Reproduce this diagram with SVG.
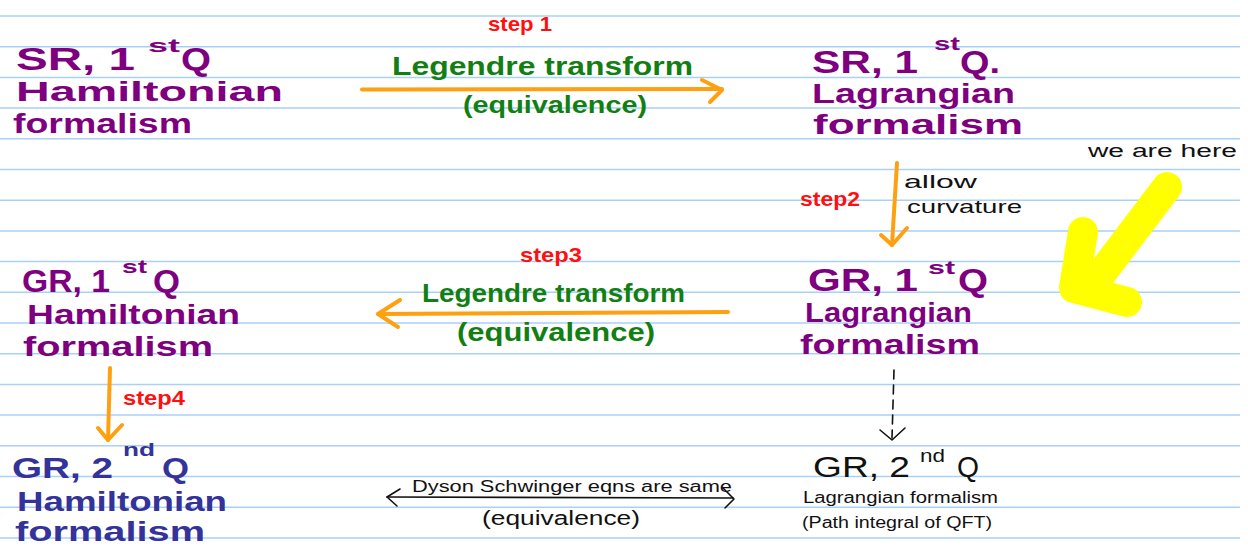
<svg xmlns="http://www.w3.org/2000/svg" width="1248" height="550" viewBox="0 0 1248 550">
<defs>
<style>
.rule{stroke:#a9d1f7;stroke-width:1.5}
text{font-family:"Liberation Sans",Arial,sans-serif}
.pu{fill:#7f007f;font-weight:bold}
.bl{fill:#333399;font-weight:bold}
.gr{fill:#137f13;font-weight:bold}
.rd{fill:#ff1010;font-weight:bold}
.bk{fill:#111111}
.big{font-size:31px}
.mid{font-size:28px}
.sup{font-size:19px}
.or{fill:none;stroke:#ffa010;stroke-width:4;stroke-linecap:round;stroke-linejoin:round}
.thin{fill:none;stroke:#111;stroke-width:1.6;stroke-linecap:round;stroke-linejoin:round}
</style>
</defs>
<rect width="1248" height="550" fill="#ffffff"/>
<g id="paper">
<line class="rule" x1="0" y1="16" x2="1240" y2="16"/>
<line class="rule" x1="0" y1="46.7" x2="1240" y2="46.7"/>
<line class="rule" x1="0" y1="77.4" x2="1240" y2="77.4"/>
<line class="rule" x1="0" y1="108.1" x2="1240" y2="108.1"/>
<line class="rule" x1="0" y1="138.8" x2="1240" y2="138.8"/>
<line class="rule" x1="0" y1="169.5" x2="1240" y2="169.5"/>
<line class="rule" x1="0" y1="200.2" x2="1240" y2="200.2"/>
<line class="rule" x1="0" y1="230.9" x2="1240" y2="230.9"/>
<line class="rule" x1="0" y1="261.6" x2="1240" y2="261.6"/>
<line class="rule" x1="0" y1="292.3" x2="1240" y2="292.3"/>
<line class="rule" x1="0" y1="323" x2="1240" y2="323"/>
<line class="rule" x1="0" y1="353.7" x2="1240" y2="353.7"/>
<line class="rule" x1="0" y1="384.4" x2="1240" y2="384.4"/>
<line class="rule" x1="0" y1="415.1" x2="1240" y2="415.1"/>
<line class="rule" x1="0" y1="445.8" x2="1240" y2="445.8"/>
<line class="rule" x1="0" y1="476.5" x2="1240" y2="476.5"/>
<line class="rule" x1="0" y1="507.2" x2="1240" y2="507.2"/>
<line class="rule" x1="0" y1="537.9" x2="1240" y2="537.9"/>
</g>

<g id="node-sr-hamiltonian">
<text class="pu big" x="16" y="70" textLength="119" lengthAdjust="spacingAndGlyphs">SR, 1</text>
<text class="pu sup" x="148" y="52" textLength="32" lengthAdjust="spacingAndGlyphs">st</text>
<text class="pu big" x="181" y="70" textLength="30" lengthAdjust="spacingAndGlyphs">Q</text>
<text class="pu mid" x="16" y="101" textLength="267" lengthAdjust="spacingAndGlyphs">Hamiltonian</text>
<text class="pu mid" x="13" y="133" textLength="179" lengthAdjust="spacingAndGlyphs">formalism</text>
</g>

<g id="node-sr-lagrangian">
<text class="pu big" x="812" y="73" textLength="106" lengthAdjust="spacingAndGlyphs">SR, 1</text>
<text class="pu sup" x="934" y="50" textLength="26" lengthAdjust="spacingAndGlyphs">st</text>
<text class="pu big" x="960" y="73" textLength="40" lengthAdjust="spacingAndGlyphs">Q.</text>
<text class="pu mid" x="812" y="103" textLength="203" lengthAdjust="spacingAndGlyphs">Lagrangian</text>
<text class="pu mid" x="813" y="134" textLength="210" lengthAdjust="spacingAndGlyphs">formalism</text>
</g>

<g id="node-gr-lagrangian">
<text class="pu big" x="808" y="291" textLength="110" lengthAdjust="spacingAndGlyphs">GR, 1</text>
<text class="pu sup" x="928" y="274" textLength="27" lengthAdjust="spacingAndGlyphs">st</text>
<text class="pu big" x="958" y="291" textLength="30" lengthAdjust="spacingAndGlyphs">Q</text>
<text class="pu mid" x="805" y="322" textLength="167" lengthAdjust="spacingAndGlyphs">Lagrangian</text>
<text class="pu mid" x="800" y="354" textLength="180" lengthAdjust="spacingAndGlyphs">formalism</text>
</g>

<g id="node-gr-hamiltonian">
<text class="pu big" x="22" y="292" textLength="88" lengthAdjust="spacingAndGlyphs">GR, 1</text>
<text class="pu sup" x="122" y="273" textLength="25" lengthAdjust="spacingAndGlyphs">st</text>
<text class="pu big" x="153" y="292" textLength="27" lengthAdjust="spacingAndGlyphs">Q</text>
<text class="pu mid" x="27" y="324" textLength="213" lengthAdjust="spacingAndGlyphs">Hamiltonian</text>
<text class="pu mid" x="23" y="356" textLength="190" lengthAdjust="spacingAndGlyphs">formalism</text>
</g>

<g id="node-gr2-hamiltonian">
<text class="bl" x="12" y="478" font-size="29" textLength="101" lengthAdjust="spacingAndGlyphs">GR, 2</text>
<text class="bl sup" x="123" y="456" textLength="32" lengthAdjust="spacingAndGlyphs">nd</text>
<text class="bl" x="162" y="478" font-size="29" textLength="27" lengthAdjust="spacingAndGlyphs">Q</text>
<text class="bl mid" x="17" y="511" textLength="210" lengthAdjust="spacingAndGlyphs">Hamiltonian</text>
<text class="bl mid" x="15" y="541" textLength="190" lengthAdjust="spacingAndGlyphs">formalism</text>
</g>

<g id="node-gr2-lagrangian">
<text class="bk" x="813" y="477" font-size="29" textLength="97" lengthAdjust="spacingAndGlyphs">GR, 2</text>
<text class="bk" x="920" y="462" font-size="18" textLength="25" lengthAdjust="spacingAndGlyphs">nd</text>
<text class="bk" x="957" y="477" font-size="29" textLength="22" lengthAdjust="spacingAndGlyphs">Q</text>
<text class="bk" x="803" y="503" font-size="16" textLength="195" lengthAdjust="spacingAndGlyphs">Lagrangian formalism</text>
<text class="bk" x="802" y="528" font-size="16" textLength="190" lengthAdjust="spacingAndGlyphs">(Path integral of QFT)</text>
</g>

<g id="connectors">
<path class="or" d="M362,89.5 L722,89"/>
<path class="or" d="M702,80 L722,90 L710,102"/>
<path class="or" d="M897,163 L892,245"/>
<path class="or" d="M881,235 L892,245 L907,228"/>
<path class="or" d="M728,312 L378,314"/>
<path class="or" d="M400,300 L378,314 L398,327"/>
<path class="or" d="M110,368 L108,440"/>
<path class="or" d="M98,428 L108,440 L122,425"/>
<path class="thin" d="M894,370 L892,438" stroke-dasharray="9,6"/>
<path class="thin" d="M880,430 L892,440 L905,428"/>
<path class="thin" d="M387,497 L733,498"/>
<path class="thin" d="M400,489 L387,497 L397,506"/>
<path class="thin" d="M723,488 L734,499 L725,508"/>
</g>

<g id="labels">
<text class="rd" x="488" y="31" font-size="21" textLength="64" lengthAdjust="spacingAndGlyphs">step 1</text>
<text class="gr" x="392" y="75" font-size="26" textLength="301" lengthAdjust="spacingAndGlyphs">Legendre transform</text>
<text class="gr" x="463" y="113" font-size="24" textLength="184" lengthAdjust="spacingAndGlyphs">(equivalence)</text>
<text class="rd" x="800" y="206" font-size="20" textLength="60" lengthAdjust="spacingAndGlyphs">step2</text>
<text class="bk" x="904" y="188" font-size="19" textLength="73" lengthAdjust="spacingAndGlyphs">allow</text>
<text class="bk" x="907" y="213" font-size="19" textLength="115" lengthAdjust="spacingAndGlyphs">curvature</text>
<text class="rd" x="520" y="262" font-size="21" textLength="62" lengthAdjust="spacingAndGlyphs">step3</text>
<text class="gr" x="422" y="302" font-size="26" textLength="263" lengthAdjust="spacingAndGlyphs">Legendre transform</text>
<text class="gr" x="457" y="341" font-size="25" textLength="198" lengthAdjust="spacingAndGlyphs">(equivalence)</text>
<text class="rd" x="123" y="405" font-size="20" textLength="62" lengthAdjust="spacingAndGlyphs">step4</text>
<text class="bk" x="412" y="492" font-size="16" textLength="320" lengthAdjust="spacingAndGlyphs">Dyson Schwinger eqns are same</text>
<text class="bk" x="482" y="525" font-size="20" textLength="158" lengthAdjust="spacingAndGlyphs">(equivalence)</text>
</g>

<g id="we-are-here">
<text class="bk" x="1088" y="157" font-size="18" textLength="149" lengthAdjust="spacingAndGlyphs">we are here</text>
<path d="M1167,187 L1095,282 M1083,232 L1074,288 L1127,302" fill="none" stroke="#ffff00" stroke-width="30" stroke-linecap="round" stroke-linejoin="round"/>
</g>
</svg>
